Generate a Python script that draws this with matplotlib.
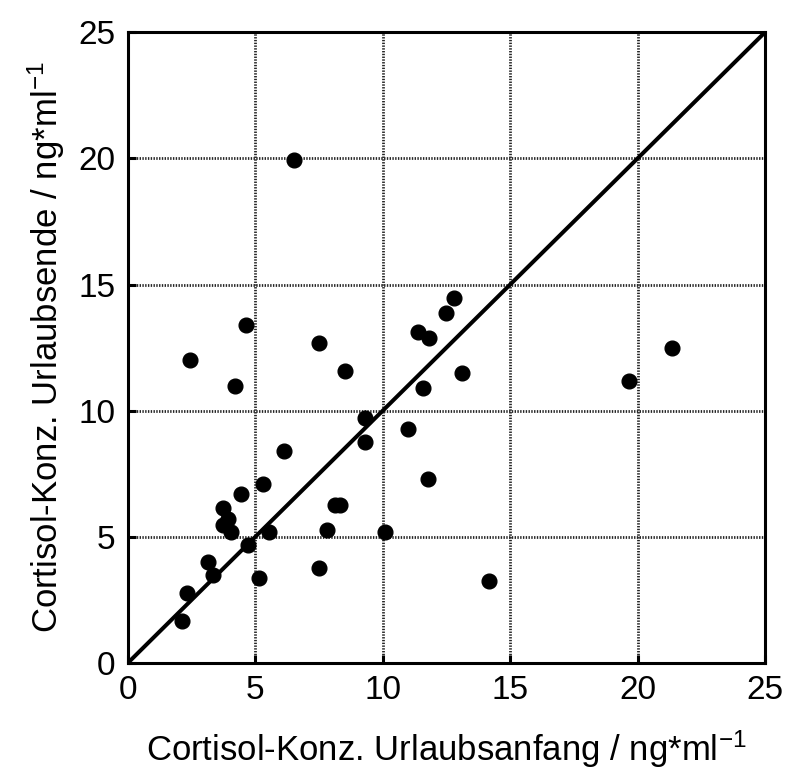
import numpy as np
import matplotlib
matplotlib.use("Agg")
import matplotlib.pyplot as plt

plt.rcParams['font.family'] = ['Liberation Sans', 'DejaVu Sans']
plt.rcParams['mathtext.default'] = 'regular'

# Cortisol concentration at start (x) and end (y) of vacation, ng/ml
start_conc = [6.5, 12.81, 12.5, 11.39, 11.8, 21.36, 13.09, 11.58, 19.65, 11.0,
              11.79, 14.18, 10.1, 4.62, 2.42, 4.2, 7.51, 8.5, 9.29, 9.29,
              6.11, 5.31, 4.42, 3.73, 3.91, 3.73, 4.04, 5.52, 7.8, 8.12,
              8.31, 4.71, 3.13, 3.32, 5.13, 7.51, 2.33, 2.12]
end_conc = [19.92, 14.47, 13.89, 13.1, 12.88, 12.49, 11.48, 10.88, 11.18, 9.28,
            7.28, 3.26, 5.17, 13.39, 12.0, 10.98, 12.7, 11.58, 9.7, 8.77,
            8.39, 7.1, 6.69, 6.16, 5.7, 5.47, 5.18, 5.17, 5.27, 6.26,
            6.26, 4.68, 3.98, 3.47, 3.36, 3.78, 2.79, 1.67]
ticks = [0, 5, 10, 15, 20, 25]

fig = plt.figure(figsize=(7.85, 7.69), dpi=100)
ax = fig.add_axes([0.163, 0.138, 0.8115, 0.82])

ax.plot([0, 25], [0, 25], color='black', lw=2.9, zorder=2)
ax.scatter(start_conc, end_conc, s=112, color='black', zorder=3, clip_on=False)

ax.set_xlim(0, 25)
ax.set_ylim(0, 25)
ax.set_xticks(ticks)
ax.set_yticks(ticks)
ax.grid(True, color='0.15', lw=2.0, linestyle=(0, (0.5, 0.5)))
ax.set_axisbelow(True)
for sp in ax.spines.values():
    sp.set_linewidth(2.2)
ax.tick_params(direction='in', length=6, width=2.2, labelsize=24, pad=9)

ax.set_xlabel('Cortisol-Konz. Urlaubsanfang / ng*ml$^{-1}$', fontsize=25, labelpad=16)
ax.set_ylabel('Cortisol-Konz. Urlaubsende / ng*ml$^{-1}$', fontsize=25, labelpad=8)

fig.savefig('out.png', dpi=100)
